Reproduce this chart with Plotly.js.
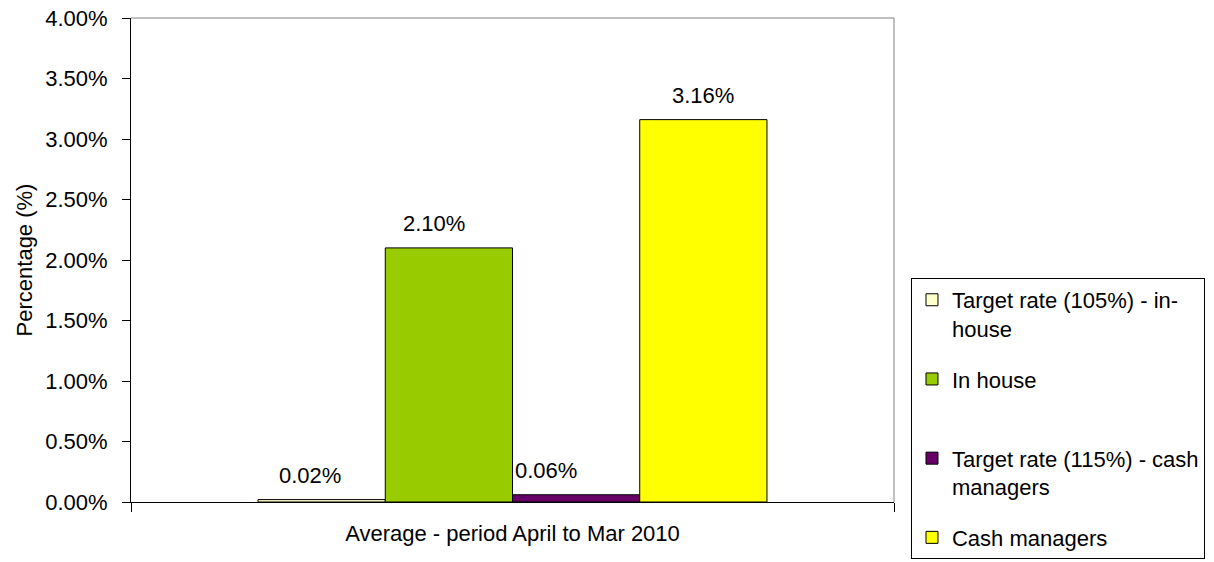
<!DOCTYPE html>
<html>
<head>
<meta charset="utf-8">
<script src="https://cdn.plot.ly/plotly-3.0.1.min.js"></script>
<style>html,body{margin:0;padding:0;background:#fff}#chart{width:1214px;height:562px}</style>
</head>
<body>
<div id="chart"></div>
<script>
const categories = ["Average - period April to Mar 2010"];
const seriesNames = [
  "Target rate (105%) - in-<br>house",
  "In house<br>&nbsp;",
  "Target rate (115%) - cash<br>managers",
  "Cash managers"
];
const seriesValues = [0.0002, 0.0210, 0.0006, 0.0316];
const seriesLabels = ["0.02%", "2.10%", "0.06%", "3.16%"];
const seriesColors = ["#FFFFCC", "#99CC00", "#660066", "#FFFF00"];
const yTickVals = [0, 0.005, 0.01, 0.015, 0.02, 0.025, 0.03, 0.035, 0.04];

// label placement tweaks (pixels), as in the original rendering
const labelShiftX = [-12, -15, -30, 0];

const FONT = "Liberation Sans, Arial, sans-serif";
const FS = 22;
const bargap = 0.333;

const traces = seriesValues.map((v, i) => ({
  type: "bar",
  name: seriesNames[i],
  x: categories,
  y: [v],
  marker: {color: seriesColors[i], line: {color: "#000000", width: 1}},
  legendgroup: "g" + i,
  hoverinfo: "skip"
}));

const nSeries = seriesValues.length;
const barW = (1 - bargap) / nSeries;
const annotations = seriesValues.map((v, i) => ({
  xref: "x", yref: "y",
  x: -(1 - bargap) / 2 + barW * (i + 0.5),
  y: v,
  text: seriesLabels[i],
  showarrow: false,
  yanchor: "bottom",
  yshift: 10,
  xshift: labelShiftX[i],
  font: {family: FONT, size: FS, color: "#000"}
}));

const layout = {
  width: 1214, height: 562,
  margin: {l: 131, r: 320, t: 18, b: 60},
  paper_bgcolor: "#fff", plot_bgcolor: "#fff",
  font: {family: FONT, size: FS, color: "#000"},
  barmode: "group",
  bargap: bargap,
  bargroupgap: 0,
  showlegend: true,
  legend: {
    xref: "container", yref: "container",
    x: 0.7504, xanchor: "left",
    y: 0.5054, yanchor: "top",
    bgcolor: "#fff", bordercolor: "#000", borderwidth: 1,
    font: {family: FONT, size: FS, color: "#000"},
    traceorder: "grouped", tracegroupgap: 19, valign: "top"
  },
  xaxis: {
    type: "category",
    automargin: false,
    showline: true, linecolor: "#000", linewidth: 1,
    ticks: "outside", tickson: "boundaries", ticklen: 9, tickcolor: "#000",
    showgrid: false, zeroline: false,
    tickfont: {family: FONT, size: FS, color: "#000"},
    ticklabelstandoff: 12,
    fixedrange: true
  },
  yaxis: {
    automargin: false,
    range: [0, 0.04],
    tickvals: yTickVals,
    tickformat: ".2%",
    showline: true, linecolor: "#000", linewidth: 1,
    ticks: "outside", ticklen: 8, tickcolor: "#000",
    showgrid: false, zeroline: false,
    tickfont: {family: FONT, size: FS, color: "#000"},
    ticklabelstandoff: 10,
    title: {text: "Percentage (%)", font: {family: FONT, size: FS, color: "#000"}, standoff: 6},
    fixedrange: true
  },
  shapes: [
    {type: "line", xref: "paper", yref: "paper", x0: 0, x1: 1, y0: 1, y1: 1, line: {color: "#808080", width: 1}},
    {type: "line", xref: "paper", yref: "paper", x0: 1, x1: 1, y0: 0, y1: 1, line: {color: "#808080", width: 1}}
  ],
  annotations: annotations
};

Plotly.newPlot("chart", traces, layout, {displayModeBar: false, staticPlot: true});
</script>
</body>
</html>
